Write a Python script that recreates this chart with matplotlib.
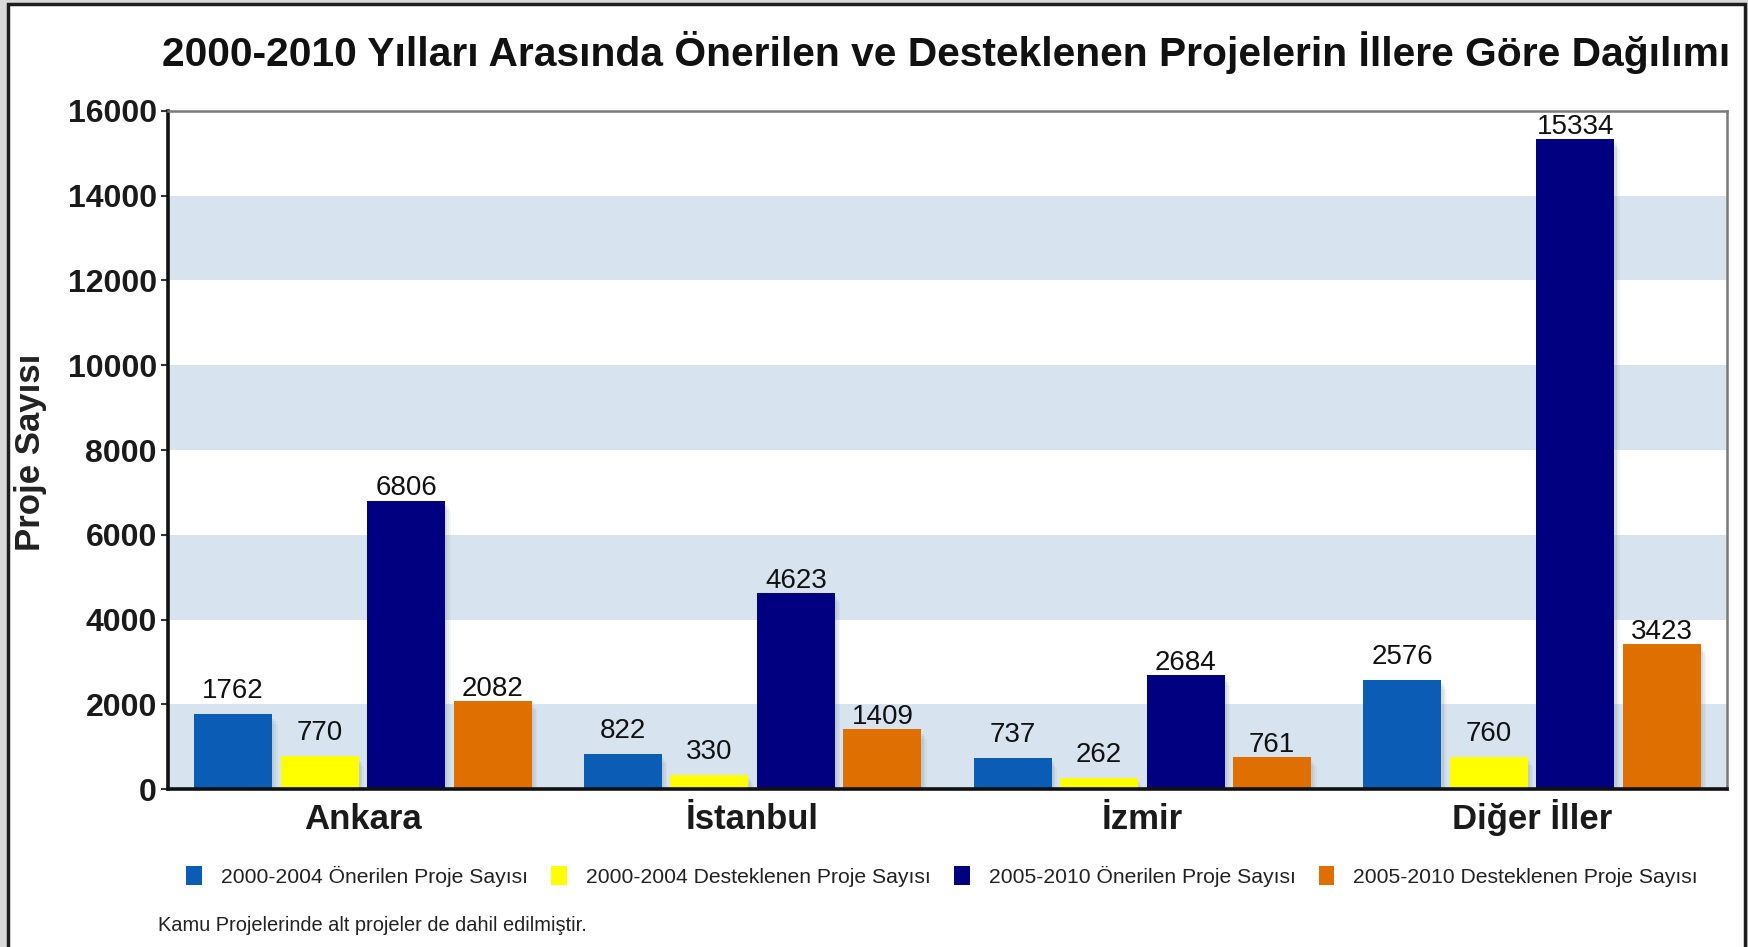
import matplotlib
matplotlib.use("Agg")
import matplotlib.pyplot as plt
from matplotlib.patches import Rectangle, Patch
import numpy as np

plt.rcParams['font.family'] = ['Liberation Sans', 'DejaVu Sans']

title = "2000-2010 Yılları Arasında Önerilen ve Desteklenen Projelerin İllere Göre Dağılımı"
categories = ["Ankara", "İstanbul", "İzmir", "Diğer İller"]
series_labels = ["2000-2004 Önerilen Proje Sayısı", "2000-2004 Desteklenen Proje Sayısı",
                 "2005-2010 Önerilen Proje Sayısı", "2005-2010 Desteklenen Proje Sayısı"]
oner_2000_2004 = [1762, 822, 737, 2576]
dest_2000_2004 = [770, 330, 262, 760]
oner_2005_2010 = [6806, 4623, 2684, 15334]
dest_2005_2010 = [2082, 1409, 761, 3423]
yticks = [0, 2000, 4000, 6000, 8000, 10000, 12000, 14000, 16000]
ylabel = "Proje Sayısı"
footnote = "Kamu Projelerinde alt projeler de dahil edilmiştir."

colors = ["#0a5cb4", "#ffff00", "#000080", "#df7000"]
label_gap_pt = [16.5, 16.5, 8.8, 8.8]
band_color = "#d7e3ef"

W, H = 1749, 947
fig = plt.figure(figsize=(W / 100, H / 100), dpi=100)
fig.patch.set_facecolor("#d9d9d9")

# white framed panel
panel = Rectangle((8 / W, -0.05), (1745 - 8) / W, (H - 4) / H + 0.05, transform=fig.transFigure,
                  facecolor="white", edgecolor="#1e1e1e", linewidth=2.5, zorder=-10)
fig.patches.append(panel)

ax_l, ax_r, ax_t, ax_b = 168, 1727, 111, 789
ax = fig.add_axes([ax_l / W, 1 - ax_b / H, (ax_r - ax_l) / W, (ax_b - ax_t) / H])
ax.set_zorder(1)
ax.set_facecolor("white")
ax.set_xlim(-0.5, len(categories) - 0.5)
ax.set_ylim(0, 16000)

for lo in range(0, 16000, 4000):
    ax.axhspan(lo, lo + 2000, color=band_color, zorder=0.5, linewidth=0)

series = [oner_2000_2004, dest_2000_2004, oner_2005_2010, dest_2005_2010]
x = np.arange(len(categories))
width = 0.2
step = 0.222
offsets = [-1.5 * step, -0.5 * step, 0.5 * step, 1.5 * step]
for vals, off, c, gap in zip(series, offsets, colors, label_gap_pt):
    # soft shadow
    for xi, v in zip(x + off, vals):
        for k, a in enumerate([0.16, 0.12, 0.08]):
            ax.add_patch(Rectangle((xi - width / 2 + 0.006 + 0.004 * k, 0), width, v - 100 - 60 * k,
                                   facecolor="#8a96a4", alpha=a, linewidth=0, zorder=1.5))
    ax.bar(x + off, vals, width=width, color=c, zorder=2, linewidth=0)
    for xi, v in zip(x + off, vals):
        ax.annotate(str(v), xy=(xi, v), xytext=(0, gap), textcoords="offset points",
                    ha="center", va="center", fontsize=20, color="#111111", zorder=3)

ax.set_yticks(yticks)
ax.set_yticklabels([str(t) for t in yticks], fontsize=23, fontweight="bold", color="#1a1a1a")
ax.tick_params(axis="y", length=5, width=1.5, pad=3, color="#333333")
ax.set_xticks(x)
ax.set_xticklabels([])
ax.tick_params(axis="x", length=0)
for xi, cat in zip(x, categories):
    ax.annotate(cat, xy=(xi, 0), xycoords=("data", "axes fraction"), xytext=(0, -29),
                textcoords="offset points", ha="center", va="baseline", fontsize=25,
                fontweight="bold", color="#1a1a1a", annotation_clip=False)

for side in ["left", "bottom"]:
    ax.spines[side].set_color("#111111")
    ax.spines[side].set_linewidth(2.6)
for side in ["top", "right"]:
    ax.spines[side].set_color("#7a7a7a")
    ax.spines[side].set_linewidth(1.8)

fig.text(946 / W, 1 - 52 / H, title, ha="center", va="center", fontsize=29.3, fontweight="bold", color="#111111")
fig.text(31 / W, 1 - 452 / H, ylabel, ha="center", va="center", rotation=90, fontsize=25,
         fontweight="bold", color="#222222")

handles = [Patch(facecolor=c, edgecolor="none") for c in colors]
fig.legend(handles, series_labels, loc="center", bbox_to_anchor=(942 / W, 1 - 876 / H), ncol=4,
           frameon=False, fontsize=15.2, handlelength=0.75, handleheight=1.0, columnspacing=1.1,
           handletextpad=0.9, labelcolor="#222222")

fig.text(158 / W, 1 - 925 / H, footnote, ha="left", va="center", fontsize=14.4, color="#222222")

fig.savefig("out.png", dpi=100, facecolor=fig.get_facecolor())
